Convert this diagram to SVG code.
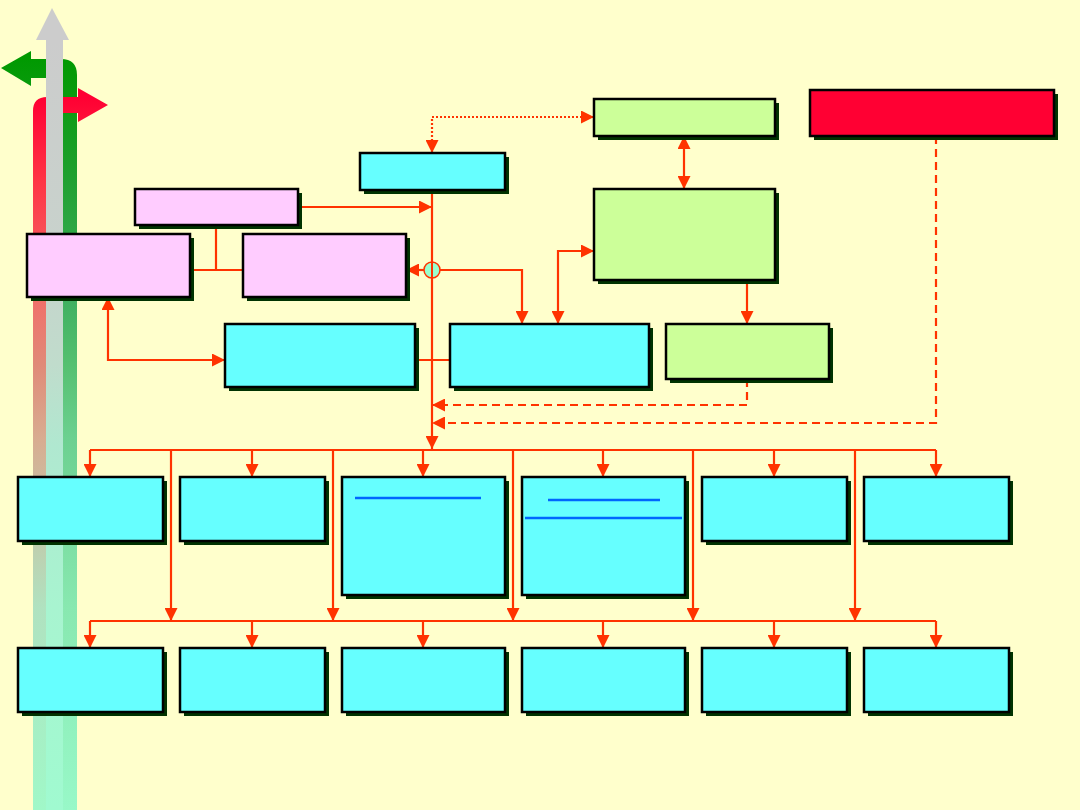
<svg xmlns="http://www.w3.org/2000/svg" width="1080" height="810" viewBox="0 0 1080 810">
<defs>
<style>
.box{stroke:#000;stroke-width:2.5}
.sh{fill:#003300}
.cy{fill:#66FFFF}
.pk{fill:#FFCCFF}
.gr{fill:#CCFF99}
.rd{fill:#FF0033}
.ln{fill:none;stroke:#FF3300;stroke-width:2.2}
.dash{stroke-dasharray:8,5}
.dot{stroke-dasharray:2,2}
.bl{stroke:#0066FF;stroke-width:2.5}
</style>
<marker id="ah" viewBox="0 0 12 12" refX="12" refY="6" markerWidth="13" markerHeight="13" markerUnits="userSpaceOnUse" orient="auto-start-reverse">
<path d="M0,0 L12,6 L0,12 Z" fill="#FF3300"/>
</marker>
<linearGradient id="gRed" gradientUnits="userSpaceOnUse" x1="0" y1="0" x2="0" y2="810">
<stop offset="0.12" stop-color="#FF0033"/>
<stop offset="0.22" stop-color="#FF3344"/>
<stop offset="0.37" stop-color="#F0706A"/>
<stop offset="0.45" stop-color="#E08A78"/>
<stop offset="0.54" stop-color="#D8AC90"/>
<stop offset="0.75" stop-color="#B0E2C0"/>
<stop offset="1" stop-color="#A0F8C8"/>
</linearGradient>
<linearGradient id="gGray" gradientUnits="userSpaceOnUse" x1="0" y1="0" x2="0" y2="810">
<stop offset="0.05" stop-color="#CCCCCC"/>
<stop offset="0.3" stop-color="#C8D2CC"/>
<stop offset="0.45" stop-color="#C0DCCC"/>
<stop offset="0.55" stop-color="#B0E8D0"/>
<stop offset="0.75" stop-color="#A8F4D0"/>
<stop offset="1" stop-color="#A0FAD0"/>
</linearGradient>
<linearGradient id="gGreen" gradientUnits="userSpaceOnUse" x1="0" y1="0" x2="0" y2="810">
<stop offset="0.07" stop-color="#009900"/>
<stop offset="0.22" stop-color="#20A030"/>
<stop offset="0.37" stop-color="#40B060"/>
<stop offset="0.45" stop-color="#55C070"/>
<stop offset="0.54" stop-color="#6CD090"/>
<stop offset="0.75" stop-color="#88E8B0"/>
<stop offset="1" stop-color="#98F8C8"/>
</linearGradient>
</defs>
<rect x="0" y="0" width="1080" height="810" fill="#FFFFCC"/>

<g id="side-arrows">
<path d="M63,810 L63,78 L31,78 L31,86 L1,68 L31,51 L31,59 L61,59 Q77,59 77,75 L77,810 Z" fill="url(#gGreen)"/>
<path d="M33,810 L33,111 Q33,97 47,97 L78,97 L78,88 L108,105 L78,122 L78,113 L46,113 L46,810 Z" fill="url(#gRed)"/>
<path d="M46,810 L46,40 L36,40 L52,8 L69,40 L63,40 L63,810 Z" fill="url(#gGray)"/>
</g>

<g id="connectors">
<path class="ln dot" d="M432,153 L432,117 L594,117" marker-start="url(#ah)" marker-end="url(#ah)"/>
<path class="ln" d="M684,136 L684,189" marker-start="url(#ah)" marker-end="url(#ah)"/>
<path class="ln" d="M432,190 L432,449" marker-end="url(#ah)"/>
<path class="ln" d="M298,207 L432,207" marker-end="url(#ah)"/>
<path class="ln" d="M216,225 L216,270"/>
<path class="ln" d="M190,270 L243,270"/>
<path class="ln" d="M425,270 L406,270" marker-end="url(#ah)"/>
<path class="ln" d="M439,270 L522,270 L522,324" marker-end="url(#ah)"/>
<path class="ln" d="M558,324 L558,251 L594,251" marker-start="url(#ah)" marker-end="url(#ah)"/>
<path class="ln" d="M747,280 L747,324" marker-end="url(#ah)"/>
<path class="ln dash" d="M747,379 L747,405 L432,405" marker-end="url(#ah)"/>
<path class="ln dash" d="M936,136 L936,423 L432,423" marker-end="url(#ah)"/>
<path class="ln" d="M108,297 L108,360 L225,360" marker-start="url(#ah)" marker-end="url(#ah)"/>
<path class="ln" d="M415,360 L450,360"/>
<path class="ln" d="M90,450 L936,450"/>
<path class="ln" d="M90,450 L90,477" marker-end="url(#ah)"/>
<path class="ln" d="M252,450 L252,477" marker-end="url(#ah)"/>
<path class="ln" d="M423,450 L423,477" marker-end="url(#ah)"/>
<path class="ln" d="M603,450 L603,477" marker-end="url(#ah)"/>
<path class="ln" d="M774,450 L774,477" marker-end="url(#ah)"/>
<path class="ln" d="M936,450 L936,477" marker-end="url(#ah)"/>
<path class="ln" d="M171,450 L171,621" marker-end="url(#ah)"/>
<path class="ln" d="M333,450 L333,621" marker-end="url(#ah)"/>
<path class="ln" d="M513,450 L513,621" marker-end="url(#ah)"/>
<path class="ln" d="M693,450 L693,621" marker-end="url(#ah)"/>
<path class="ln" d="M855,450 L855,621" marker-end="url(#ah)"/>
<path class="ln" d="M90,621 L936,621"/>
<path class="ln" d="M90,621 L90,648" marker-end="url(#ah)"/>
<path class="ln" d="M252,621 L252,648" marker-end="url(#ah)"/>
<path class="ln" d="M423,621 L423,648" marker-end="url(#ah)"/>
<path class="ln" d="M603,621 L603,648" marker-end="url(#ah)"/>
<path class="ln" d="M774,621 L774,648" marker-end="url(#ah)"/>
<path class="ln" d="M936,621 L936,648" marker-end="url(#ah)"/>
</g>

<g id="junction">
<circle cx="432" cy="270" r="8" fill="#99FFCC" stroke="#FF3300" stroke-width="1.5"/>
<line x1="432" y1="262" x2="432" y2="278" stroke="#FF3300" stroke-width="2"/>
</g>

<g id="n-top-green"><rect class="sh" x="598" y="103" width="181" height="37"/><rect class="box gr" x="594" y="99" width="181" height="37"/></g>
<g id="n-red"><rect class="sh" x="814" y="94" width="244" height="46"/><rect class="box rd" x="810" y="90" width="244" height="46"/></g>
<g id="n-cyan-top"><rect class="sh" x="364" y="157" width="145" height="37"/><rect class="box cy" x="360" y="153" width="145" height="37"/></g>
<g id="n-pink-top"><rect class="sh" x="139" y="193" width="163" height="36"/><rect class="box pk" x="135" y="189" width="163" height="36"/></g>
<g id="n-pink-left"><rect class="sh" x="31" y="238" width="163" height="63"/><rect class="box pk" x="27" y="234" width="163" height="63"/></g>
<g id="n-pink-right"><rect class="sh" x="247" y="238" width="163" height="63"/><rect class="box pk" x="243" y="234" width="163" height="63"/></g>
<g id="n-green-big"><rect class="sh" x="598" y="193" width="181" height="91"/><rect class="box gr" x="594" y="189" width="181" height="91"/></g>
<g id="n-cyan-mid-left"><rect class="sh" x="229" y="328" width="190" height="63"/><rect class="box cy" x="225" y="324" width="190" height="63"/></g>
<g id="n-cyan-mid-center"><rect class="sh" x="454" y="328" width="199" height="63"/><rect class="box cy" x="450" y="324" width="199" height="63"/></g>
<g id="n-green-small"><rect class="sh" x="670" y="328" width="163" height="55"/><rect class="box gr" x="666" y="324" width="163" height="55"/></g>

<g id="r1a"><rect class="sh" x="22" y="481" width="145" height="64"/><rect class="box cy" x="18" y="477" width="145" height="64"/></g>
<g id="r1b"><rect class="sh" x="184" y="481" width="145" height="64"/><rect class="box cy" x="180" y="477" width="145" height="64"/></g>
<g id="r1c"><rect class="sh" x="346" y="481" width="163" height="118"/><rect class="box cy" x="342" y="477" width="163" height="118"/><line class="bl" x1="355" y1="498" x2="481" y2="498"/></g>
<g id="r1d"><rect class="sh" x="526" y="481" width="163" height="118"/><rect class="box cy" x="522" y="477" width="163" height="118"/><line class="bl" x1="548" y1="500" x2="660" y2="500"/><line class="bl" x1="525" y1="518" x2="682" y2="518"/></g>
<g id="r1e"><rect class="sh" x="706" y="481" width="145" height="64"/><rect class="box cy" x="702" y="477" width="145" height="64"/></g>
<g id="r1f"><rect class="sh" x="868" y="481" width="145" height="64"/><rect class="box cy" x="864" y="477" width="145" height="64"/></g>

<g id="r2a"><rect class="sh" x="22" y="652" width="145" height="64"/><rect class="box cy" x="18" y="648" width="145" height="64"/></g>
<g id="r2b"><rect class="sh" x="184" y="652" width="145" height="64"/><rect class="box cy" x="180" y="648" width="145" height="64"/></g>
<g id="r2c"><rect class="sh" x="346" y="652" width="163" height="64"/><rect class="box cy" x="342" y="648" width="163" height="64"/></g>
<g id="r2d"><rect class="sh" x="526" y="652" width="163" height="64"/><rect class="box cy" x="522" y="648" width="163" height="64"/></g>
<g id="r2e"><rect class="sh" x="706" y="652" width="145" height="64"/><rect class="box cy" x="702" y="648" width="145" height="64"/></g>
<g id="r2f"><rect class="sh" x="868" y="652" width="145" height="64"/><rect class="box cy" x="864" y="648" width="145" height="64"/></g>
</svg>
